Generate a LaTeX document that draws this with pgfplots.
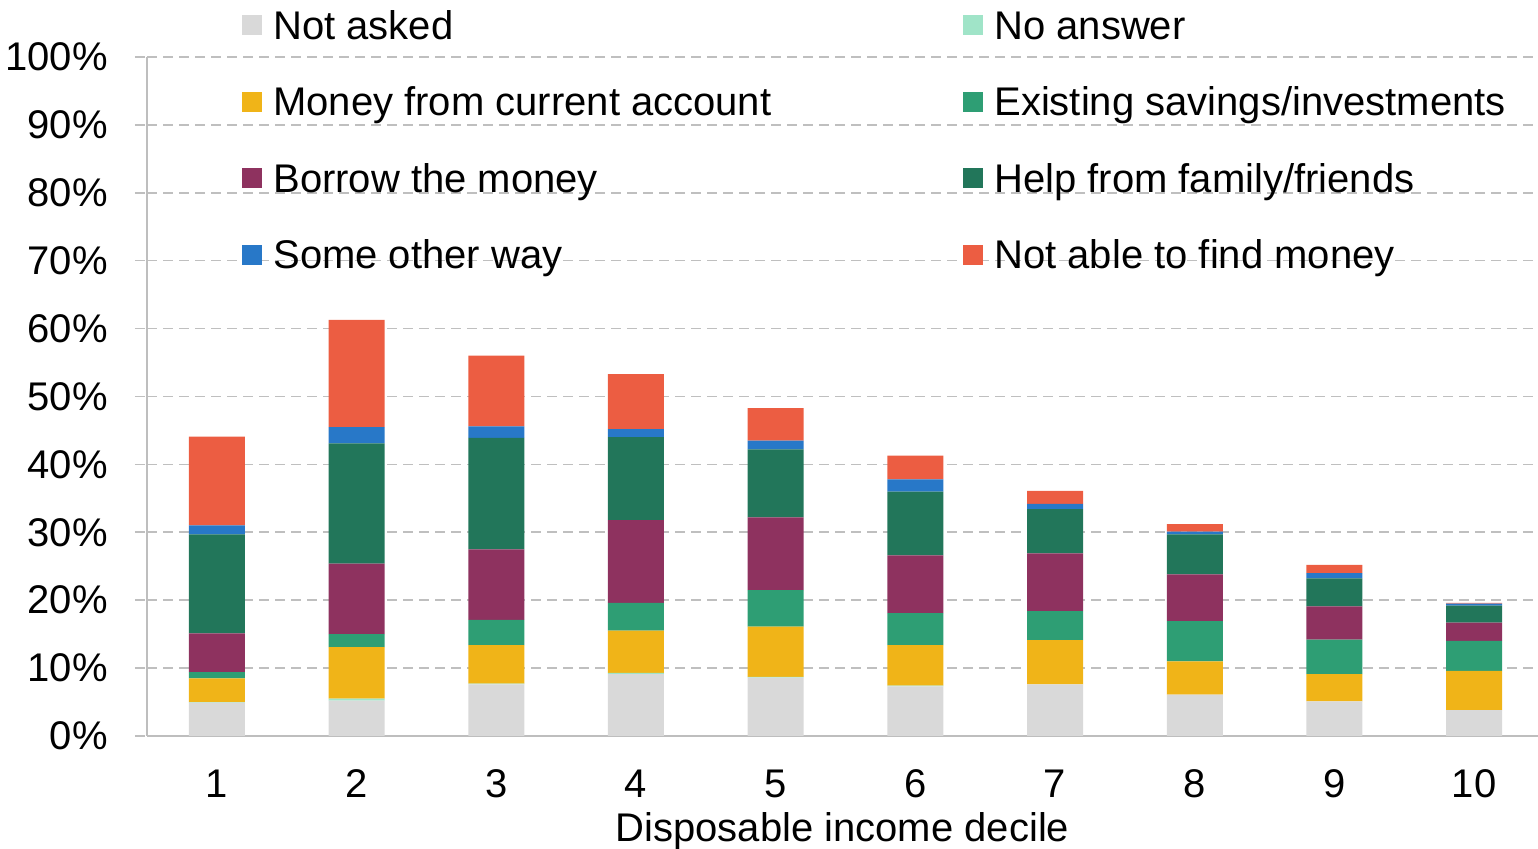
\documentclass[border=0pt]{standalone}
\usepackage{pgfplots}
\pgfplotsset{compat=1.18}
\usepackage{pgfplotstable}
\usepackage{fontspec}
\setmainfont{Liberation Sans}
\definecolor{cNotAsked}{RGB}{217,217,217}
\definecolor{cNoAnswer}{RGB}{160,228,200}
\definecolor{cCurrent}{RGB}{240,180,24}
\definecolor{cSavings}{RGB}{46,158,116}
\definecolor{cBorrow}{RGB}{142,50,95}
\definecolor{cFamily}{RGB}{34,118,90}
\definecolor{cOther}{RGB}{40,120,200}
\definecolor{cNotAble}{RGB}{236,93,66}
\definecolor{axisgray}{RGB}{190,190,190}
\definecolor{gridgray}{RGB}{191,191,191}

\pgfplotstableread{
decile NotAsked NoAnswer Current Savings Borrow Family Other NotAble
1 4.9 0.1 3.5 0.9 5.7 14.6 1.3 13.1
2 5.2 0.3 7.6 1.9 10.4 17.7 2.4 15.8
3 7.6 0.1 5.7 3.7 10.4 16.4 1.7 10.4
4 9.1 0.2 6.2 4.1 12.2 12.2 1.2 8.1
5 8.6 0.1 7.4 5.4 10.7 10.0 1.3 4.8
6 7.3 0.1 6.0 4.7 8.5 9.4 1.8 3.5
7 7.6 0.0 6.5 4.3 8.5 6.5 0.8 1.9
8 6.1 0.0 4.9 5.9 6.9 5.9 0.4 1.1
9 5.1 0.0 4.0 5.1 4.9 4.1 0.8 1.2
10 3.8 0.0 5.8 4.4 2.7 2.5 0.3 0.1
}\datatable

\begin{document}
\fontsize{20pt}{24pt}\selectfont
\begin{tikzpicture}
\useasboundingbox (0,0) rectangle (769pt,424.5pt);
\begin{axis}[
  at={(73.5pt,56.5pt)}, anchor=south west,
  scale only axis, width=695.5pt, height=339.5pt,
  ybar stacked, bar width=28pt,
  xmin=0.5, xmax=10.457, ymin=0, ymax=100,
  xtick={1,...,10},
  major x tick style={draw=none},
  extra x ticks={0.5,1.5,...,9.5},
  extra x tick labels={},
  extra x tick style={major tick length=5pt, tick style={draw=axisgray, line width=1pt}},
  ytick={0,10,...,100},
  yticklabel={\pgfmathprintnumber{\tick}\%},
  major y tick style={draw=gridgray, line width=0.8pt, dash pattern=on 5pt off 3pt},
  major tick length=6pt,
  tick align=outside,
  ymajorgrids,
  grid style={draw=gridgray, line width=0.8pt, dash pattern=on 5pt off 3pt},
  axis x line*=bottom, axis y line*=left,
  axis line style={draw=axisgray, line width=1pt, -},
  /pgf/number format/assume math mode=true,
  tick label style={font=\fontsize{20pt}{24pt}\selectfont},
  xticklabel style={anchor=base, inner sep=0pt, yshift=-24.7pt},
  yticklabel style={anchor=east, inner sep=0pt, xshift=-13.5pt},
  xlabel={Disposable income decile},
  xlabel style={at={(axis description cs:0.5,0)}, anchor=base, inner sep=0pt, yshift=-53pt, font=\fontsize{20pt}{24pt}\selectfont},
  legend columns=2,
  legend cell align=left,
  legend style={at={(0.064,1.0765)}, anchor=north west, draw=none, fill=none,
    font=\fontsize{20pt}{24pt}\selectfont, row sep=18.25pt, column sep=0pt,
    nodes={inner sep=0pt, text height=15pt, text depth=5pt}},
  legend image code/.code={\fill[#1] (0pt,-2.8pt) rectangle (10pt,7.2pt); \path (15.5pt,0pt);},
]
\addplot[fill=cNotAsked, draw=none] table[x=decile, y=NotAsked] {\datatable};
\addplot[fill=cNoAnswer, draw=none] table[x=decile, y=NoAnswer] {\datatable};
\addplot[fill=cCurrent, draw=none] table[x=decile, y=Current] {\datatable};
\addplot[fill=cSavings, draw=none] table[x=decile, y=Savings] {\datatable};
\addplot[fill=cBorrow, draw=none] table[x=decile, y=Borrow] {\datatable};
\addplot[fill=cFamily, draw=none] table[x=decile, y=Family] {\datatable};
\addplot[fill=cOther, draw=none] table[x=decile, y=Other] {\datatable};
\addplot[fill=cNotAble, draw=none] table[x=decile, y=NotAble] {\datatable};
\legend{\makebox[345pt][l]{Not asked}, No answer,
  \makebox[345pt][l]{Money from current account}, Existing savings/investments,
  \makebox[345pt][l]{Borrow the money}, Help from family/friends,
  \makebox[345pt][l]{Some other way}, Not able to find money}
\end{axis}
\end{tikzpicture}
\end{document}
